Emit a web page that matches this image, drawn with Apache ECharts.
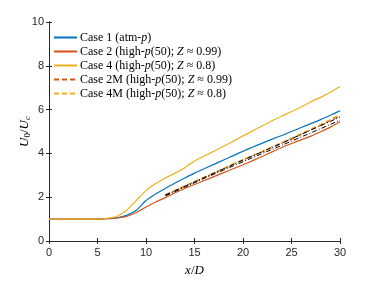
<!DOCTYPE html>
<html>
<head>
<meta charset="utf-8">
<script src="https://cdn.jsdelivr.net/npm/echarts@6/dist/echarts.min.js"></script>
<style>
  body { margin: 0; background: #fff; }
  #chart { width: 376px; height: 282px; }
</style>
</head>
<body>
<div id="chart"></div>
<script>
// x/D positions
var xFull = [0,1,2,3,4,5,6,7,8,9,10,11,12,13,14,15,16,17,18,19,20,21,22,23,24,25,26,27,28,29,30];
var case1 = [1,1,1,1,1,1,1.02,1.06,1.17,1.4,1.85,2.15,2.4,2.65,2.88,3.1,3.3,3.5,3.7,3.9,4.1,4.29,4.47,4.65,4.82,5.0,5.18,5.36,5.54,5.74,5.95];
var case2 = [1,1,1,1,1,1,1.02,1.05,1.12,1.3,1.55,1.78,1.98,2.2,2.4,2.58,2.76,2.94,3.12,3.3,3.48,3.67,3.87,4.07,4.27,4.45,4.62,4.79,4.99,5.2,5.45];
var case4 = [1,1,1,1,1,1,1.04,1.13,1.4,1.85,2.3,2.62,2.88,3.1,3.35,3.65,3.88,4.1,4.33,4.56,4.8,5.03,5.26,5.49,5.71,5.91,6.12,6.36,6.56,6.79,7.05];

var xM = [12,13,14,15,16,17,18,19,20,21,22,23,24,25,26,27,28,29,30];
var case2M = [2.1,2.3,2.5,2.7,2.9,3.1,3.3,3.5,3.7,3.89,4.08,4.27,4.46,4.65,4.86,5.07,5.28,5.5,5.72];
var case4M = [2.12,2.32,2.52,2.72,2.92,3.12,3.32,3.52,3.72,3.91,4.1,4.3,4.5,4.7,4.91,5.12,5.33,5.55,5.78];
var modelA = [2.06,2.26,2.46,2.66,2.86,3.05,3.24,3.43,3.62,3.81,4.0,4.18,4.37,4.56,4.75,4.94,5.13,5.32,5.52];
var modelB = [2.1,2.3,2.5,2.7,2.9,3.1,3.3,3.5,3.7,3.89,4.08,4.28,4.47,4.67,4.87,5.07,5.27,5.46,5.66];

function pairs(xs, ys) {
    return xs.map(function (x, i) { return [x, ys[i]]; });
}

var axisColor = '#262626';
var serif = '"Liberation Serif", "DejaVu Serif", serif';
var sans = '"Liberation Sans", Arial, sans-serif';

var legendNames = [
    'Case 1 (atm-{i|p})',
    'Case 2 (high-{i|p}(50); {i|Z} ≈ 0.99)',
    'Case 4 (high-{i|p}(50); {i|Z} ≈ 0.8)',
    'Case 2M (high-{i|p}(50); {i|Z} ≈ 0.99)',
    'Case 4M (high-{i|p}(50); {i|Z} ≈ 0.8)'
];

function lineSeries(name, xs, ys, color, type) {
    return {
        name: name,
        type: 'line',
        data: pairs(xs, ys),
        symbol: 'none',
        smooth: 0.2,
        lineStyle: { color: color, width: 1.2, type: type },
        itemStyle: { color: color },
        z: 3
    };
}

var chart = echarts.init(document.getElementById('chart'));
chart.setOption({
    animation: false,
    grid: { left: 49, right: 36, top: 22, bottom: 36 },
    legend: {
        left: 48,
        top: 26,
        orient: 'vertical',
        itemWidth: 23,
        itemHeight: 13,
        itemGap: 1,
        data: legendNames,
        itemStyle: { opacity: 0 },
        textStyle: {
            fontFamily: serif,
            fontSize: 12,
            lineHeight: 13,
            color: '#000',
            padding: [0, 0, 0, -2],
            rich: {
                i: { fontFamily: serif, fontStyle: 'italic', fontSize: 12, lineHeight: 13, color: '#000' }
            }
        }
    },
    xAxis: [{
        type: 'value',
        min: 0, max: 30, interval: 5,
        name: '{i|x}/{i|D}',
        nameLocation: 'middle',
        nameGap: 23,
        nameMoveOverlap: false,
        nameTextStyle: {
            fontFamily: serif, fontSize: 13, color: '#000',
            rich: { i: { fontFamily: serif, fontStyle: 'italic', fontSize: 13, color: '#000' } }
        },
        axisLine: { lineStyle: { color: axisColor } },
        axisTick: { inside: true, length: 3, lineStyle: { color: axisColor } },
        axisLabel: { color: axisColor, fontSize: 11, margin: 6, fontFamily: sans },
        splitLine: { show: false }
    }, {
        type: 'value',
        position: 'top',
        min: 0, max: 30, interval: 5,
        axisLine: { show: true, lineStyle: { color: axisColor } },
        axisTick: { inside: true, length: 3, lineStyle: { color: axisColor } },
        axisLabel: { show: false },
        splitLine: { show: false }
    }],
    yAxis: [{
        type: 'value',
        min: 0, max: 10, interval: 2,
        name: '{i|U}{s|0}/{i|U}{si|c}',
        nameLocation: 'middle',
        nameGap: 17,
        nameMoveOverlap: false,
        nameRotate: 90,
        nameTextStyle: {
            fontFamily: serif, fontSize: 13, color: '#000',
            rich: {
                i: { fontFamily: serif, fontStyle: 'italic', fontSize: 13, color: '#000' },
                s: { fontFamily: serif, fontSize: 9, color: '#000', padding: [6, 0, 0, 0] },
                si: { fontFamily: serif, fontStyle: 'italic', fontSize: 9, color: '#000', padding: [6, 0, 0, 0] }
            }
        },
        axisLine: { show: true, lineStyle: { color: axisColor } },
        axisTick: { show: true, inside: true, length: 3, lineStyle: { color: axisColor } },
        axisLabel: { color: axisColor, fontSize: 11, margin: 5, fontFamily: sans },
        splitLine: { show: false }
    }, {
        type: 'value',
        position: 'right',
        min: 0, max: 10, interval: 2,
        axisLine: { show: true, lineStyle: { color: axisColor } },
        axisTick: { show: true, inside: true, length: 3, lineStyle: { color: axisColor } },
        axisLabel: { show: false },
        splitLine: { show: false }
    }],
    series: [
        lineSeries(legendNames[0], xFull, case1, '#0072BD', 'solid'),
        lineSeries(legendNames[1], xFull, case2, '#D95319', 'solid'),
        lineSeries(legendNames[2], xFull, case4, '#EDB120', 'solid'),
        lineSeries(legendNames[3], xM, case2M, '#D95319', [5, 3]),
        lineSeries(legendNames[4], xM, case4M, '#EDB120', [5, 3]),
        {
            name: 'modelA', type: 'line', data: pairs(xM, modelA), symbol: 'none',
            lineStyle: { color: '#000', width: 1, type: [5, 2, 1, 2] }, z: 4
        },
        {
            name: 'modelB', type: 'line', data: pairs(xM, modelB), symbol: 'none',
            lineStyle: { color: '#000', width: 1, type: [5, 2, 1, 2] }, z: 4
        }
    ]
});
</script>
</body>
</html>
